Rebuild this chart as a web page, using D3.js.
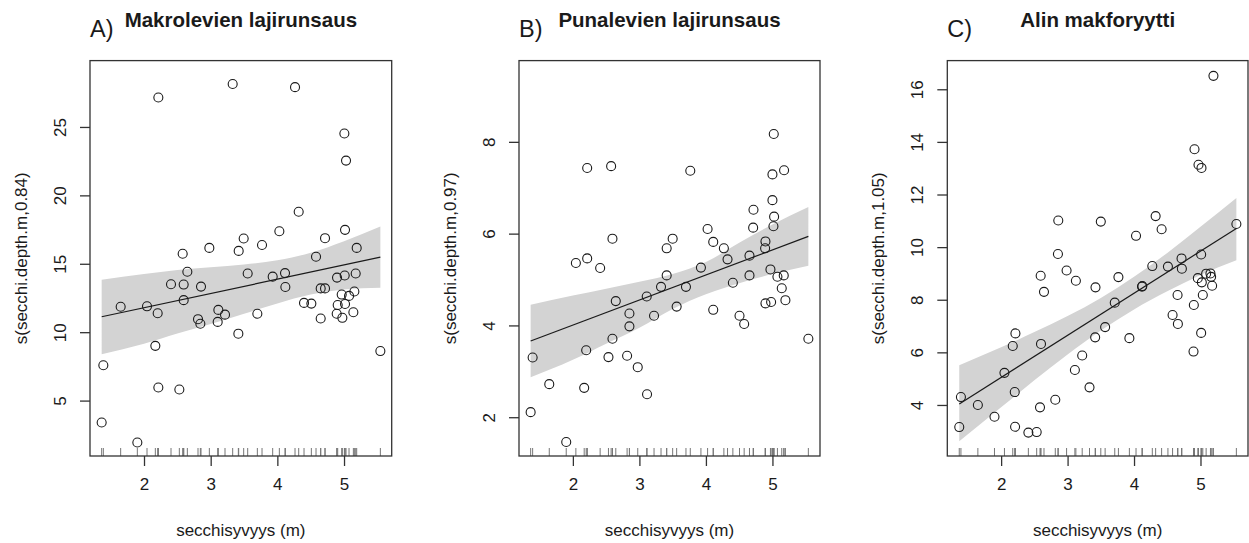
<!DOCTYPE html>
<html>
<head>
<meta charset="utf-8">
<script src="https://cdn.jsdelivr.net/npm/d3@7"></script>
<style>
  body { margin: 0; background: #fff; }
  svg { display: block; font-family: "Liberation Sans", Arial, sans-serif; }
</style>
</head>
<body>
<div id="chart"></div>
<script>
// secchi depth (m) vs. partial effect, one list of [x, y] per panel
const makroPoints = [
  [1.365,3.4],[1.39,7.58],[1.65,11.86],[1.9,1.94],[2.045,11.89],[2.17,9.0],[2.205,11.38],[2.215,27.15],
  [2.215,5.96],[2.405,13.5],[2.53,5.81],[2.58,15.73],[2.595,13.48],[2.595,12.34],[2.65,14.42],[2.81,10.95],
  [2.845,10.62],[2.855,13.33],[2.98,16.16],[3.105,10.75],[3.115,11.63],[3.215,11.28],[3.33,28.14],[3.415,9.89],
  [3.42,15.94],[3.495,16.85],[3.555,14.29],[3.7,11.35],[3.77,16.37],[3.93,14.06],[4.03,17.38],[4.115,14.32],
  [4.12,13.3],[4.265,27.91],[4.32,18.8],[4.4,12.14],[4.51,12.09],[4.58,15.51],[4.65,11.0],[4.65,13.2],
  [4.715,13.2],[4.715,16.87],[4.895,13.99],[4.89,11.35],[4.905,11.99],[4.965,12.75],[4.975,11.05],[5.005,24.52],
  [5.01,14.14],[5.015,12.06],[5.015,17.48],[5.03,22.54],[5.075,12.65],[5.14,11.46],[5.155,12.97],[5.175,14.29],
  [5.19,16.16],[5.545,8.62]
];
const punaPoints = [
  [1.365,2.11],[1.395,3.3],[1.645,2.72],[1.9,1.46],[2.045,5.36],[2.17,2.64],[2.2,3.46],[2.215,5.46],
  [2.215,7.43],[2.41,5.25],[2.535,3.31],[2.575,7.47],[2.595,3.71],[2.595,5.89],[2.645,4.53],[2.815,3.34],
  [2.85,3.98],[2.85,4.26],[2.975,3.09],[3.11,4.63],[3.115,2.5],[3.22,4.21],[3.325,4.84],[3.41,5.09],
  [3.41,5.68],[3.5,5.89],[3.56,4.41],[3.7,4.84],[3.765,7.37],[3.925,5.26],[4.025,6.1],[4.11,5.82],
  [4.11,4.34],[4.27,5.68],[4.325,5.44],[4.405,4.93],[4.505,4.21],[4.575,4.03],[4.655,5.52],[4.655,5.09],
  [4.71,6.13],[4.715,6.52],[4.895,5.83],[4.89,5.68],[4.895,4.48],[4.97,5.22],[4.98,4.51],[5.0,7.29],
  [5.0,6.73],[5.02,8.17],[5.025,6.37],[5.015,6.16],[5.075,5.06],[5.14,4.81],[5.17,5.09],[5.175,7.38],
  [5.195,4.55],[5.54,3.71]
];
const alinPoints = [
  [1.37,3.16],[1.395,4.3],[1.65,4.0],[1.9,3.55],[2.05,5.22],[2.175,6.24],[2.215,6.72],[2.205,4.49],
  [2.21,3.17],[2.41,2.95],[2.535,2.97],[2.585,3.91],[2.595,8.91],[2.6,6.32],[2.645,8.3],[2.815,4.2],
  [2.855,9.74],[2.86,11.01],[2.985,9.11],[3.11,5.33],[3.125,8.72],[3.22,5.88],[3.33,4.67],[3.415,6.57],
  [3.42,8.47],[3.5,10.97],[3.565,6.96],[3.71,7.89],[3.765,8.86],[3.93,6.54],[4.03,10.43],[4.12,8.5],
  [4.125,8.52],[4.275,9.28],[4.325,11.18],[4.415,10.68],[4.51,9.26],[4.58,7.42],[4.655,8.18],[4.66,7.08],
  [4.715,9.57],[4.72,9.18],[4.9,7.8],[4.895,6.03],[4.91,13.72],[4.97,13.13],[5.015,13.01],[4.96,8.82],
  [5.01,9.72],[5.01,6.74],[5.02,8.66],[5.035,8.18],[5.085,8.99],[5.15,9.0],[5.16,8.87],[5.175,8.53],
  [5.195,16.51],[5.54,10.88]
];

// fitted smooth (straight) and its confidence band, read at a few depths
const makroFit = [[1.365,11.13],[5.545,15.48]];
const punaFit = [[1.365,3.66],[5.54,5.94]];
const alinFit = [[1.37,4.04],[5.54,10.71]];

const makroBandX = [1.365,2.0,2.5,3.0,3.5,4.0,4.5,5.0,5.545];
const makroBandHi = [13.84,14.25,14.55,14.75,14.95,15.25,15.8,16.65,17.72];
const makroBandLo = [8.38,9.15,9.9,10.6,11.35,12.1,12.75,13.12,13.25];
const punaBandX = [1.365,2.0,2.5,3.0,3.5,4.0,4.5,5.0,5.54];
const punaBandHi = [4.45,4.65,4.8,4.95,5.12,5.38,5.8,6.2,6.58];
const punaBandLo = [2.87,3.25,3.6,3.95,4.36,4.68,4.92,5.12,5.3];
const alinBandX = [1.37,2.0,2.5,3.0,3.5,4.0,4.5,5.0,5.54];
const alinBandHi = [5.51,6.19,6.77,7.38,8.07,8.87,9.78,10.77,11.87];
const alinBandLo = [2.62,3.91,4.94,5.92,6.83,7.63,8.32,8.94,9.5];

const xTicks = [2, 3, 4, 5];
const makroTicks = [5, 10, 15, 20, 25];
const punaTicks = [2, 4, 6, 8];
const alinTicks = [4, 6, 8, 10, 12, 14, 16];

const panelLetters = ["A)", "B)", "C)"];
const panelTitles = ["Makrolevien lajirunsaus", "Punalevien lajirunsaus", "Alin makforyytti"];
const yLabels = ["s(secchi.depth.m,0.84)", "s(secchi.depth.m,0.97)", "s(secchi.depth.m,1.05)"];
const xLabel = "secchisyvyys (m)";

const W = 1249, H = 543;
const svg = d3.select("#chart").append("svg").attr("width", W).attr("height", H);

const panels = [
  { left: 90, right: 391.7, yDomain: [0.95, 29.85], points: makroPoints, fit: makroFit,
    bx: makroBandX, hi: makroBandHi, lo: makroBandLo, yTicks: makroTicks },
  { left: 519, right: 820, yDomain: [1.155, 9.77], points: punaPoints, fit: punaFit,
    bx: punaBandX, hi: punaBandHi, lo: punaBandLo, yTicks: punaTicks },
  { left: 947.3, right: 1248, yDomain: [2.06, 17.09], points: alinPoints, fit: alinFit,
    bx: alinBandX, hi: alinBandHi, lo: alinBandLo, yTicks: alinTicks }
];
const plotTop = 60.6, plotBottom = 456;
const ink = "#1a1a1a";

panels.forEach(function(p, i) {
  let x = d3.scaleLinear().domain([1.19, 5.715]).range([p.left, p.right]);
  let y = d3.scaleLinear().domain(p.yDomain).range([plotBottom, plotTop]);
  let g = svg.append("g");

  // confidence band
  let band = d3.area()
      .x(function(d, k) { return x(p.bx[k]); })
      .y0(function(d, k) { return y(p.lo[k]); })
      .y1(function(d, k) { return y(p.hi[k]); })
      .curve(d3.curveMonotoneX);
  g.append("path").datum(p.bx)
      .attr("d", band)
      .attr("fill", "#d3d3d3");

  // fitted line
  g.append("path").datum(p.fit)
      .attr("d", d3.line().x(function(d) { return x(d[0]); }).y(function(d) { return y(d[1]); }))
      .attr("fill", "none")
      .attr("stroke", ink)
      .attr("stroke-width", 1.2);

  // rug
  g.selectAll("line.rug").data(p.points).enter().append("line")
      .attr("class", "rug")
      .attr("x1", function(d) { return x(d[0]); })
      .attr("x2", function(d) { return x(d[0]); })
      .attr("y1", plotBottom)
      .attr("y2", plotBottom - 8)
      .attr("stroke", "#777")
      .attr("stroke-width", 1);

  // residual points
  g.selectAll("circle").data(p.points).enter().append("circle")
      .attr("cx", function(d) { return x(d[0]); })
      .attr("cy", function(d) { return y(d[1]); })
      .attr("r", 4.5)
      .attr("fill", "none")
      .attr("stroke", ink)
      .attr("stroke-width", 1.1);

  // box
  g.append("rect")
      .attr("x", p.left).attr("y", plotTop)
      .attr("width", p.right - p.left).attr("height", plotBottom - plotTop)
      .attr("fill", "none")
      .attr("stroke", "#333")
      .attr("stroke-width", 1.3);

  // axes
  let xAxis = d3.axisBottom(x).tickValues(xTicks).tickSize(10).tickPadding(12).tickFormat(d3.format("d"));
  let gx = g.append("g").attr("transform", "translate(0," + plotBottom + ")").call(xAxis);
  let yAxis = d3.axisLeft(y).tickValues(p.yTicks).tickSize(10).tickFormat(d3.format("d"));
  let gy = g.append("g").attr("transform", "translate(" + p.left + ",0)").call(yAxis);
  [gx, gy].forEach(function(a) {
    a.select(".domain").remove();
    a.selectAll(".tick line").attr("stroke", "#333").attr("stroke-width", 1.3);
    a.selectAll(".tick text").attr("fill", ink).attr("font-size", 17)
        .attr("font-family", "'Liberation Sans', Arial, sans-serif");
  });
  gx.selectAll(".tick text").attr("dy", "0.71em");
  // y tick labels are parallel to the axis, as in base R
  gy.selectAll(".tick text")
      .attr("x", null).attr("dy", null)
      .attr("text-anchor", "middle")
      .attr("transform", "translate(-30,0) rotate(-90)")
      .attr("dominant-baseline", "central");

  // axis titles
  svg.append("text")
      .attr("x", (p.left + p.right) / 2).attr("y", 536)
      .attr("text-anchor", "middle")
      .attr("font-size", 17).attr("fill", ink)
      .text(xLabel);
  svg.append("text")
      .attr("transform", "translate(" + (p.left - 68.5) + "," + ((plotTop + plotBottom) / 2) + ") rotate(-90)")
      .attr("text-anchor", "middle")
      .attr("dominant-baseline", "central")
      .attr("font-size", 17).attr("fill", ink)
      .text(yLabels[i]);

  // titles
  svg.append("text")
      .attr("x", p.left).attr("y", 37)
      .attr("font-size", 23.5).attr("fill", ink)
      .text(panelLetters[i]);
  svg.append("text")
      .attr("x", (p.left + p.right) / 2).attr("y", 27)
      .attr("text-anchor", "middle")
      .attr("font-size", 20.5).attr("font-weight", "bold").attr("fill", ink)
      .text(panelTitles[i]);
});
</script>
</body>
</html>
